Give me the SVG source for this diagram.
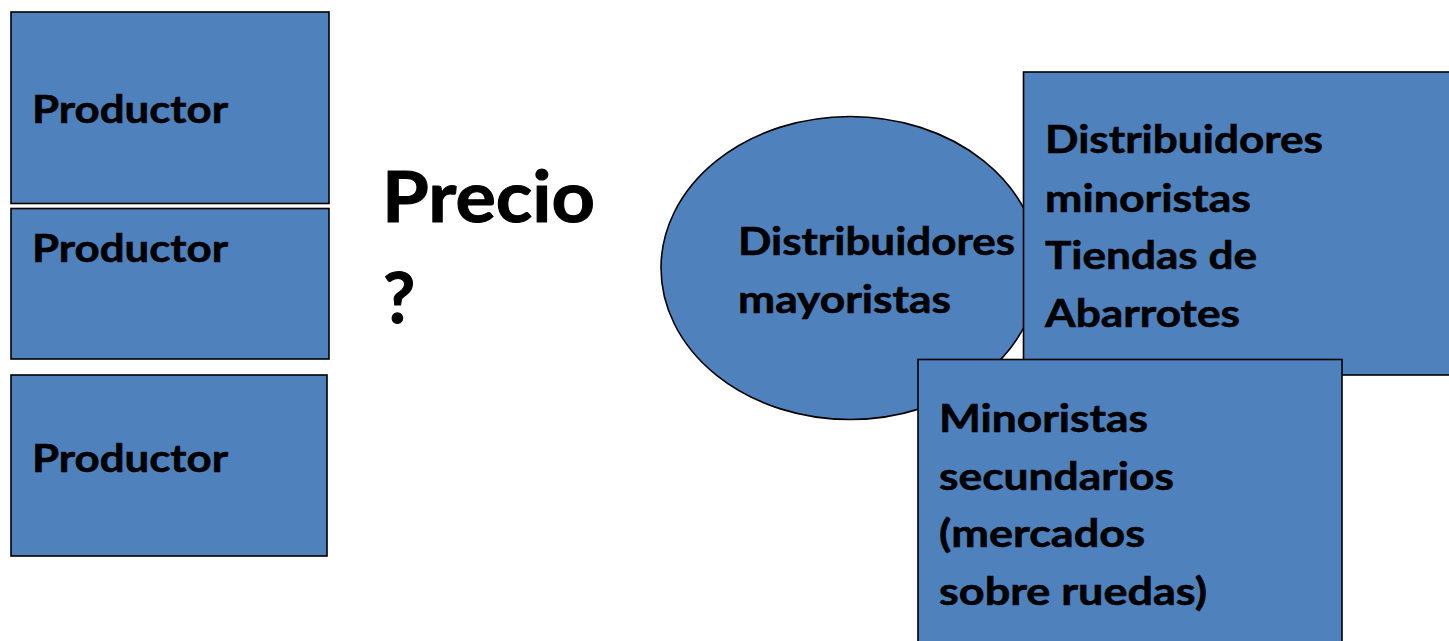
<svg xmlns="http://www.w3.org/2000/svg" width="1449" height="641" viewBox="0 0 1449 641">
<style>
.shape{fill:#4F81BD;stroke:#000;stroke-width:1.6}
.t{font-family:Lato,"Open Sans","Liberation Sans",sans-serif;font-weight:bold;font-size:39px;fill:#000;stroke:#000;stroke-width:0.6}
.big{font-family:Lato,"Open Sans","Liberation Sans",sans-serif;font-weight:bold;font-size:70px;fill:#000;stroke:#000;stroke-width:1}
</style>
<rect width="1449" height="641" fill="#fff"/>
<g id="productor1">
<rect class="shape" x="11" y="12" width="318" height="191.5"/>
<text class="t" x="32" y="123" textLength="196" lengthAdjust="spacingAndGlyphs">Productor</text>
</g>
<g id="productor2">
<rect class="shape" x="11" y="208.5" width="318" height="150.5"/>
<text class="t" x="32" y="262" textLength="196" lengthAdjust="spacingAndGlyphs">Productor</text>
</g>
<g id="productor3">
<rect class="shape" x="11" y="375" width="316" height="181"/>
<text class="t" x="32" y="472" textLength="196" lengthAdjust="spacingAndGlyphs">Productor</text>
</g>
<g id="precio">
<text class="big" x="382" y="222" textLength="213" lengthAdjust="spacingAndGlyphs">Precio</text>
<text class="big" x="383" y="323" font-size="76">?</text>
</g>
<g id="mayoristas">
<ellipse class="shape" cx="850" cy="268" rx="189" ry="151.5"/>
<text class="t" x="738" y="255" textLength="277" lengthAdjust="spacingAndGlyphs">Distribuidores</text>
<text class="t" x="738" y="313" textLength="213" lengthAdjust="spacingAndGlyphs">mayoristas</text>
</g>
<g id="minoristas">
<rect class="shape" x="1023.5" y="72" width="440" height="303"/>
<text class="t" x="1045" y="153" textLength="278" lengthAdjust="spacingAndGlyphs">Distribuidores</text>
<text class="t" x="1045" y="211.5" textLength="206" lengthAdjust="spacingAndGlyphs">minoristas</text>
<text class="t" x="1045" y="268.5" textLength="212" lengthAdjust="spacingAndGlyphs">Tiendas de</text>
<text class="t" x="1045" y="326.5" textLength="195" lengthAdjust="spacingAndGlyphs">Abarrotes</text>
</g>
<g id="secundarios">
<rect class="shape" x="918" y="359.5" width="424" height="300"/>
<text class="t" x="939" y="431.5" textLength="209" lengthAdjust="spacingAndGlyphs">Minoristas</text>
<text class="t" x="939" y="490" textLength="235" lengthAdjust="spacingAndGlyphs">secundarios</text>
<text class="t" x="939" y="547" textLength="206" lengthAdjust="spacingAndGlyphs">(mercados</text>
<text class="t" x="939" y="605" textLength="268" lengthAdjust="spacingAndGlyphs">sobre ruedas)</text>
</g>
<g id="connectors"></g>
</svg>
